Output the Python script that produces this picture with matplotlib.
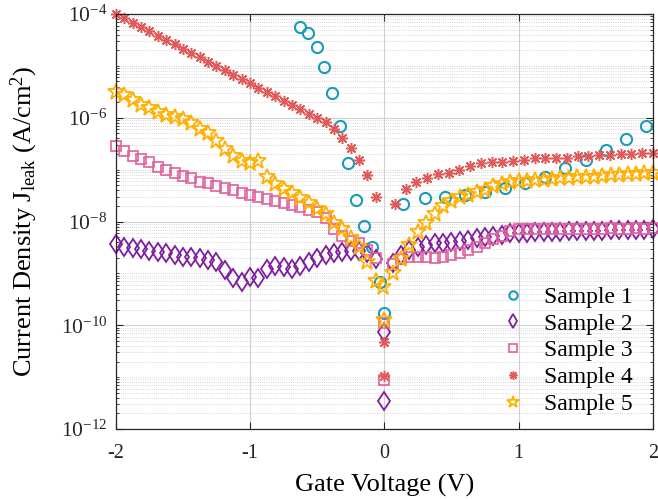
import matplotlib
matplotlib.use("Agg")
import matplotlib.pyplot as plt
from matplotlib.ticker import LogLocator, FixedLocator, NullFormatter
import numpy as np

# voltage sweeps (V)
v_left = [-2.0, -1.9375, -1.875, -1.8125, -1.75, -1.6875, -1.625, -1.5625,
          -1.5, -1.4375, -1.375, -1.3125, -1.25, -1.1875, -1.125, -1.0625,
          -1.0, -0.9375, -0.875, -0.8125, -0.75, -0.6875, -0.625, -0.5625,
          -0.5, -0.4375, -0.375, -0.3125, -0.25, -0.1875, -0.125, -0.0625]
v_right = [0.0625, 0.125, 0.1875, 0.25, 0.3125, 0.375, 0.4375, 0.5,
           0.5625, 0.625, 0.6875, 0.75, 0.8125, 0.875, 0.9375, 1.0,
           1.0625, 1.125, 1.1875, 1.25, 1.3125, 1.375, 1.4375, 1.5,
           1.5625, 1.625, 1.6875, 1.75, 1.8125, 1.875, 1.9375, 2.0]
v4_right = [0.08, 0.16, 0.24, 0.32, 0.4, 0.48, 0.56, 0.64, 0.72, 0.8,
            0.88, 0.96, 1.04, 1.12, 1.2, 1.28, 1.36, 1.44, 1.52, 1.6,
            1.68, 1.76, 1.84, 1.92, 2.0]
v1_left = [-0.63, -0.57, -0.50, -0.45, -0.39, -0.33, -0.27, -0.21, -0.15,
           -0.09, -0.03, 0.0]
v1_right = [0.14, 0.30, 0.45, 0.60, 0.75, 0.90, 1.05, 1.20, 1.35, 1.50,
            1.65, 1.80, 1.95]

# log10 of leakage current density (A/cm^2)
s1_left = [-4.25, -4.37, -4.64, -5.02, -5.52, -6.16, -6.87, -7.58, -8.08,
           -8.49, -9.16, -9.76]
s1_right = [-7.66, -7.55, -7.53, -7.49, -7.43, -7.35, -7.26, -7.14, -6.97,
            -6.81, -6.62, -6.41, -6.16]

s2_left = [-8.43, -8.49, -8.51, -8.53, -8.57, -8.59, -8.61, -8.64, -8.68,
           -8.68, -8.70, -8.74, -8.78, -8.93, -9.09, -9.16, -9.07, -9.09,
           -8.91, -8.85, -8.87, -8.92, -8.85, -8.78, -8.70, -8.65, -8.61,
           -8.58, -8.56, -8.57, -8.60, -8.72]
s2_zero = [-10.13, -11.46]
s2_right = [-8.80, -8.64, -8.55, -8.49, -8.45, -8.41, -8.41, -8.39, -8.38,
            -8.35, -8.32, -8.30, -8.28, -8.26, -8.23, -8.22, -8.22, -8.21,
            -8.21, -8.20, -8.20, -8.19, -8.19, -8.18, -8.18, -8.18, -8.17,
            -8.17, -8.17, -8.16, -8.16, -8.15]

s3_left = [-6.55, -6.65, -6.73, -6.80, -6.86, -6.94, -7.00, -7.06, -7.13,
           -7.17, -7.23, -7.26, -7.32, -7.35, -7.39, -7.45, -7.49, -7.53,
           -7.56, -7.61, -7.64, -7.68, -7.72, -7.78, -7.82, -7.93, -8.15,
           -8.27, -8.38, -8.42, -8.55, -8.70]
s3_zero = [-9.95, -11.05]
s3_right = [-8.82, -8.72, -8.68, -8.68, -8.69, -8.70, -8.68, -8.64, -8.60,
            -8.55, -8.49, -8.42, -8.33, -8.27, -8.18, -8.15, -8.15, -8.15,
            -8.14, -8.15, -8.14, -8.14, -8.15, -8.14, -8.14, -8.14, -8.13,
            -8.14, -8.14, -8.13, -8.14, -8.13]

s4_left = [-4.00, -4.08, -4.17, -4.25, -4.33, -4.42, -4.50, -4.58, -4.67,
           -4.75, -4.83, -4.92, -5.00, -5.08, -5.17, -5.25, -5.33, -5.42,
           -5.50, -5.58, -5.67, -5.75, -5.83, -5.92, -6.00, -6.08, -6.22,
           -6.39, -6.58, -6.81, -7.10, -7.53]
s4_zero = [-10.32, -10.97]
s4_right = [-7.66, -7.37, -7.24, -7.16, -7.08, -7.06, -7.01, -6.93, -6.87,
            -6.85, -6.85, -6.83, -6.81, -6.77, -6.77, -6.77, -6.77, -6.74,
            -6.74, -6.72, -6.72, -6.70, -6.70, -6.68, -6.68]

s5_left = [-5.50, -5.57, -5.65, -5.75, -5.82, -5.88, -5.94, -5.99, -6.02,
           -6.10, -6.22, -6.29, -6.45, -6.60, -6.73, -6.83, -6.87, -6.84,
           -7.15, -7.28, -7.38, -7.46, -7.54, -7.64, -7.75, -7.86, -8.02,
           -8.15, -8.32, -8.50, -8.78, -9.14]
v5_zero = [-0.01, 0.0]
s5_zero = [-9.26, -9.90]
s5_right = [-9.00, -8.72, -8.46, -8.20, -8.02, -7.85, -7.70, -7.60, -7.53,
            -7.48, -7.44, -7.39, -7.31, -7.27, -7.24, -7.22, -7.21, -7.20,
            -7.20, -7.18, -7.17, -7.17, -7.15, -7.14, -7.14, -7.12, -7.11,
            -7.11, -7.09, -7.08, -7.07, -7.06]

labels = ["Sample 1", "Sample 2", "Sample 3", "Sample 4", "Sample 5"]
colors = ["#1a9bb8", "#7e1f9e", "#e0609e", "#e05a5a", "#ffb000"]

plt.rcParams["font.family"] = ["Liberation Serif", "DejaVu Serif"]
plt.rcParams["mathtext.fontset"] = "custom"
plt.rcParams["mathtext.rm"] = "Liberation Serif"
plt.rcParams["mathtext.it"] = "Liberation Serif:italic"

fig = plt.figure(figsize=(6.58, 5.0), dpi=100)
ax = fig.add_axes([0.176, 0.142, 0.816, 0.830])


def pts(*parts):
    return np.concatenate([np.asarray(p, dtype=float) for p in parts])


series = [
    (pts(v1_left, v1_right), pts(s1_left, s1_right),
     dict(marker="o", ms=8, mew=1.5)),
    (pts(v_left, [0, 0], v_right), pts(s2_left, s2_zero, s2_right),
     dict(marker="d", ms=9.5, mew=1.3)),
    (pts(v_left, [0, 0], v_right), pts(s3_left, s3_zero, s3_right),
     dict(marker="s", ms=7, mew=1.2)),
    (pts(v_left, [0, 0], v4_right), pts(s4_left, s4_zero, s4_right),
     dict(marker=(8, 2, 0), ms=8, mew=1.1)),
    (pts(v_left, v5_zero, v_right), pts(s5_left, s5_zero, s5_right),
     dict(marker="*", ms=12, mew=1.3)),
]

for (x, ylog, st), lab, c in zip(series, labels, colors):
    ax.semilogy(x, 10.0 ** ylog, linestyle="none", mfc="none", mec=c,
                color=c, label=lab, clip_on=False, **st)

ax.set_xlim(-2, 2)
ax.set_ylim(1e-12, 1e-4)
ax.set_xticks([-2, -1, 0, 1, 2])
ax.set_xticklabels(["-2", "-1", "0", "1", "2"])
ax.yaxis.set_major_locator(FixedLocator([1e-12, 1e-10, 1e-8, 1e-6, 1e-4]))
ax.yaxis.set_minor_locator(LogLocator(base=10, subs=np.arange(1, 10), numticks=20))
ax.yaxis.set_minor_formatter(NullFormatter())
ax.set_yticklabels([r"$10^{-12}$", r"$10^{-10}$", r"$10^{-8}$",
                    r"$10^{-6}$", r"$10^{-4}$"])

ax.tick_params(which="both", direction="in", top=True, right=True,
               colors="#262626")
ax.tick_params(axis="x", labelsize=14.5, pad=11)
ax.tick_params(axis="y", labelsize=15.5, pad=6)
ax.tick_params(which="major", length=5, width=0.8)
ax.tick_params(which="minor", length=2.5, width=0.6)
for sp in ax.spines.values():
    sp.set_color("#262626")
    sp.set_linewidth(0.9)

ax.grid(True, which="major", color="#d0d0d0", linewidth=0.8)
ax.grid(True, which="minor", axis="y", color="#c8c8c8", linewidth=0.6,
        linestyle=":")
ax.set_axisbelow(True)

ax.set_xlabel("Gate Voltage (V)", fontsize=19, labelpad=8)
ax.set_ylabel(r"Current Density J$_{\rm leak}$ (A/cm$^2$)", fontsize=19,
              labelpad=15)

ax.legend(loc="lower right", bbox_to_anchor=(0.99, 0.0), frameon=False,
          fontsize=17, handletextpad=0.6, labelspacing=0.22, borderaxespad=0.2,
          handlelength=1.5, markerscale=0.75)

fig.savefig("out.png", dpi=100)
